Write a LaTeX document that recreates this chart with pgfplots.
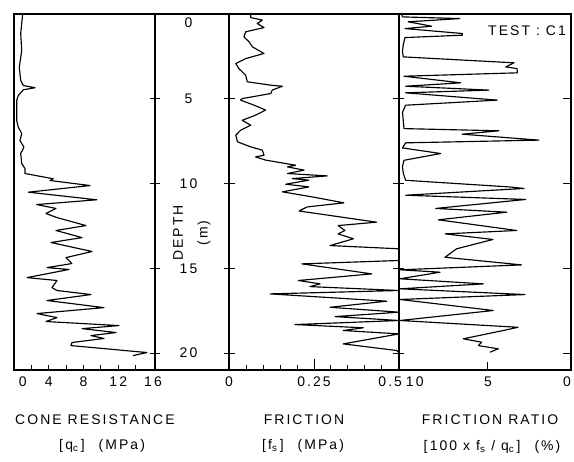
\documentclass[border=0pt]{standalone}
\usepackage{fontspec}
\setmainfont{Liberation Sans}[LetterSpace=15]
\usepackage{pgfplots}
\pgfplotsset{compat=1.18}
\newcommand{\lf}{\fontsize{14}{16}\selectfont}
\pgfplotsset{
 cpt/.style={scale only axis, height=356bp, ymin=0, ymax=21, y dir=reverse,
   anchor=south west,
   axis line style={line width=1.3bp},
   every tick/.style={black, line width=1bp},
   tick label style={font=\lf},
   /pgf/number format/assume math mode=true,
   xtick pos=left, xticklabel style={yshift=-3bp},
   minor tick length=5bp, xtick align=inside},
 curve/.style={black, line width=1.15bp, no markers, sharp plot, line join=round}
}
\begin{document}
\begin{tikzpicture}
\path[use as bounding box] (0,0) rectangle (574bp,462bp);
% ---------- cone resistance ----------
\begin{axis}[cpt, name=a1, at={(14bp,92bp)}, width=141bp,
  xmin=0, xmax=16.23, xtick={0,4,8,12,16},
  xticklabels={\hphantom{00}0,4,8,12,16},
  major x tick style={draw=none}, minor xtick={2,4,...,14},
  ytick={5,10,15,20}, ytick pos=right, yticklabels={}, ytick align=center,
  major tick length=10bp]
\addplot[curve] coordinates {
(1.00,0) (0.77,1.15) (0.89,2.15) (0.61,3.14) (0.77,3.92) (1.07,4.22) (2.42,4.35)
(1.07,4.47) (0.49,4.81) (0.31,5.10) (0.31,6.28) (0.49,6.68) (0.89,7.05) (0.69,7.46)
(1.15,7.86) (0.77,8.23) (0.89,8.82) (1.27,9.12) (1.27,9.41) (4.52,9.72) (4.14,9.82)
(8.75,10.12) (1.65,10.51) (9.52,10.96) (2.61,11.24) (4.83,11.47) (3.68,11.77)
(4.95,12.01) (8.29,12.48) (4.83,12.77) (7.83,13.19) (4.26,13.48) (8.98,14.01)
(5.98,14.37) (6.67,14.72) (3.80,14.96) (6.33,15.07) (1.50,15.55) (4.95,15.72)
(4.37,16.14) (4.95,16.31) (8.86,16.55) (3.80,16.90) (10.36,17.32) (2.65,17.67)
(4.95,17.91) (3.68,18.14) (12.08,18.38) (7.83,18.56) (11.74,18.79) (8.86,18.97)
(10.36,19.14) (6.67,19.38) (6.56,19.56) (15.3,19.97) (13.7,20.15)
};
\end{axis}
% ---------- friction ----------
\begin{axis}[cpt, name=a2, at={(229bp,92bp)}, width=170bp,
  xmin=0, xmax=0.5, xtick={0,0.5}, xticklabels={0,0.5\hphantom{00}},
  extra x ticks={0.25}, extra x tick labels={0.25},
  minor xtick={0.05,0.1,0.15,0.2,0.3,0.35,0.4,0.45},
  ytick={5,10,15,20}, ytick align=center, major tick length=11bp,
  yticklabel style={anchor=center, xshift=-35bp},
  extra y ticks={0}, extra y tick labels={0},
  extra y tick style={tick style={draw=none}, yticklabel style={yshift=-9bp}}]
\addplot[curve] coordinates {
(0.064,0) (0.064,0.21) (0.098,0.36) (0.083,0.56) (0.103,0.80) (0.049,1.05)
(0.044,1.35) (0.059,1.64) (0.069,1.94) (0.103,2.33) (0.049,2.63) (0.020,2.92)
(0.029,3.22) (0.049,3.61) (0.054,4.00) (0.123,4.20) (0.157,4.26) (0.127,4.49)
(0.123,4.69) (0.039,4.99) (0.034,5.08) (0.074,5.38) (0.108,5.67) (0.078,5.97)
(0.039,6.27) (0.064,6.56) (0.034,6.86) (0.020,7.15) (0.025,7.54) (0.064,7.84)
(0.098,8.03) (0.103,8.33) (0.078,8.43) (0.108,8.62) (0.196,8.92) (0.172,9.02)
(0.221,9.21) (0.172,9.41) (0.289,9.55) (0.186,9.71) (0.235,9.80) (0.167,10.04)
(0.235,10.20) (0.157,10.49) (0.245,10.79) (0.338,11.14) (0.230,11.38)
(0.206,11.62) (0.434,12.28) (0.321,12.48) (0.341,12.77) (0.321,12.97)
(0.366,13.26) (0.297,13.66) (0.5,13.85) (0.5,14.54) (0.214,14.74) (0.420,15.33)
(0.204,15.72) (0.268,15.92) (0.238,16.08) (0.5,16.31) (0.121,16.51)
(0.464,16.94) (0.297,17.30) (0.5,17.59) (0.312,17.85) (0.5,18.08) (0.194,18.32)
(0.395,18.51) (0.336,18.67) (0.5,18.87) (0.336,19.46) (0.493,19.85) (0.5,19.97)
};
\end{axis}
% ---------- friction ratio ----------
\begin{axis}[cpt, name=a3, at={(399bp,92bp)}, width=172bp,
  x dir=reverse, xmin=0, xmax=10.36, xtick={5},
  extra x ticks={0,10}, extra x tick labels={0\hphantom{0},\hphantom{10}\hspace{2bp}10},
  extra x tick style={tick style={draw=none}},
  ytick={5,10,15,20}, ytick pos=right, yticklabels={}, ytick align=inside,
  major tick length=8bp]
\addplot[curve] coordinates {
(10.2,0) (10.15,0.17) (6.7,0.27) (9.8,0.46) (8.4,0.72) (10.0,0.86) (6.55,1.15)
(6.55,1.25) (10.0,1.39) (10.1,1.8) (10.15,2.2) (10.1,2.53) (3.43,2.88)
(3.93,3.12) (3.25,3.22) (3.23,3.47) (10.06,3.67) (6.64,4.06) (9.96,4.26)
(4.94,4.49) (9.96,4.65) (4.44,5.08) (9.96,5.38) (10.15,5.8) (10.1,6.3)
(10.06,6.76) (4.34,6.89) (6.55,7.09) (1.93,7.44) (9.96,7.6) (10.15,7.9)
(7.85,8.23) (10.06,8.63) (10.15,9.0) (10.1,9.4) (9.96,9.81) (3.73,10.2)
(2.83,10.29) (9.96,10.69) (2.73,10.94) (8.15,11.47) (3.87,11.69) (7.99,12.14)
(3.27,12.77) (7.59,12.97) (4.7,13.3) (6.89,13.85) (7.59,14.35) (2.97,14.8)
(10.3,15.09) (7.89,15.23) (10.3,15.62) (5.28,15.92) (10.3,16.21) (2.77,16.55)
(10.3,16.84) (4.68,17.49) (10.3,18.08) (3.19,18.48) (4.08,18.67) (6.49,19.16)
(5.38,19.36) (5.58,19.56) (4.38,19.75) (4.88,19.95)
};
\end{axis}
\draw[line width=1.3bp] (a1.north east) -- (a2.north west);
\draw[line width=1.3bp] (a1.south east) -- (a2.south west);
\node[anchor=base, font=\lf, inner sep=0pt] at (527bp,426bp) {TEST : C1};
\node[rotate=90, font=\lf] at (178bp,229bp) {DEPTH};
\node[rotate=90, font=\lf] at (204bp,229bp) {(m)};
\node[anchor=base west, font=\lf, inner sep=0pt] at (15bp,38bp) {CONE RESISTANCE};
\node[anchor=base, font=\lf, inner sep=0pt] at (102bp,13bp) {[\,q\textsubscript{c}\,]\quad(MPa)};
\node[anchor=base, font=\lf, inner sep=0pt] at (304bp,38bp) {FRICTION};
\node[anchor=base, font=\lf, inner sep=0pt] at (303bp,13bp) {[\,f\textsubscript{s}\,]\quad(MPa)};
\node[anchor=base, font=\lf, inner sep=0pt] at (490bp,38bp) {FRICTION RATIO};
\node[anchor=base, font=\lf, inner sep=0pt] at (492bp,12bp) {[\,100 x f\textsubscript{s} / q\textsubscript{c}\,]\quad(\%)};
\end{tikzpicture}
\end{document}
